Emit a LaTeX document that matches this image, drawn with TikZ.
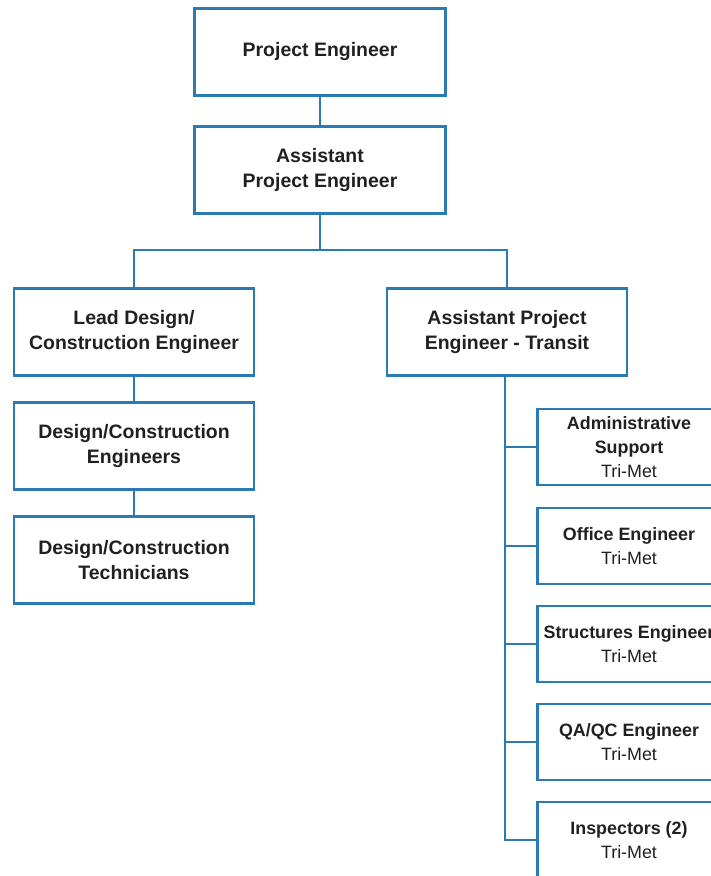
\documentclass[tikz,border=0pt]{standalone}
\usepackage{fontspec}
\setmainfont{Liberation Sans}
\usepackage{tikz}
\definecolor{orgblue}{RGB}{42,122,180}
\definecolor{orgtext}{RGB}{35,31,32}
\def\role#1{\textbf{#1}}

\begin{document}
\begin{tikzpicture}[x=0.75pt,y=-0.75pt,line width=1.9pt,
  box/.style={draw=orgblue,fill=white,align=center,text=orgtext,inner sep=2pt,
    font=\fontsize{14.6}{18.6}\selectfont},
  topbox/.style={box,minimum width=188pt,minimum height=65.5pt},
  leftbox/.style={box,minimum width=180pt,minimum height=65pt},
  staffbox/.style={box,minimum width=137pt,minimum height=57pt,
    font=\fontsize{13.4}{18}\selectfont},
  link/.style={draw=orgblue}]%<<<
\clip (0,0) rectangle (711,876);
\node[topbox] (pe) at (320,52) {\role{Project Engineer}};
\node[topbox] (ape) at (320,170) {\role{Assistant}\\\role{Project Engineer}};
\node[leftbox] (lead) at (134,332) {\role{Lead Design/}\\\role{Construction Engineer}};
\node[leftbox] (apt) at (507,332) {\role{Assistant Project}\\\role{Engineer - Transit}};
\node[leftbox] (dce) at (134,446) {\role{Design/Construction}\\\role{Engineers}};
\node[leftbox] (dct) at (134,560) {\role{Design/Construction}\\\role{Technicians}};
\node[staffbox] (adm) at (629,447) {\role{Administrative}\\\role{Support}\\Tri-Met};
\node[staffbox] (off) at (629,546) {\role{Office Engineer}\\Tri-Met};
\node[staffbox] (str) at (629,644) {\role{Structures Engineer}\\Tri-Met};
\node[staffbox] (qa) at (629,742) {\role{QA/QC Engineer}\\Tri-Met};
\node[staffbox] (insp) at (629,840) {\role{Inspectors (2)}\\Tri-Met};
\coordinate (fork) at (320,250);
\draw[link] (pe) -- (ape);
\draw[link] (ape) -- (fork) -| (lead);
\draw[link] (fork) -| (apt);
\draw[link] (lead) -- (dce);
\draw[link] (dce) -- (dct);
\foreach \s in {adm,off,str,qa,insp}
  \draw[link] ([xshift=-1.5pt]apt.south) |- (\s.west);
\end{tikzpicture}
\end{document}
